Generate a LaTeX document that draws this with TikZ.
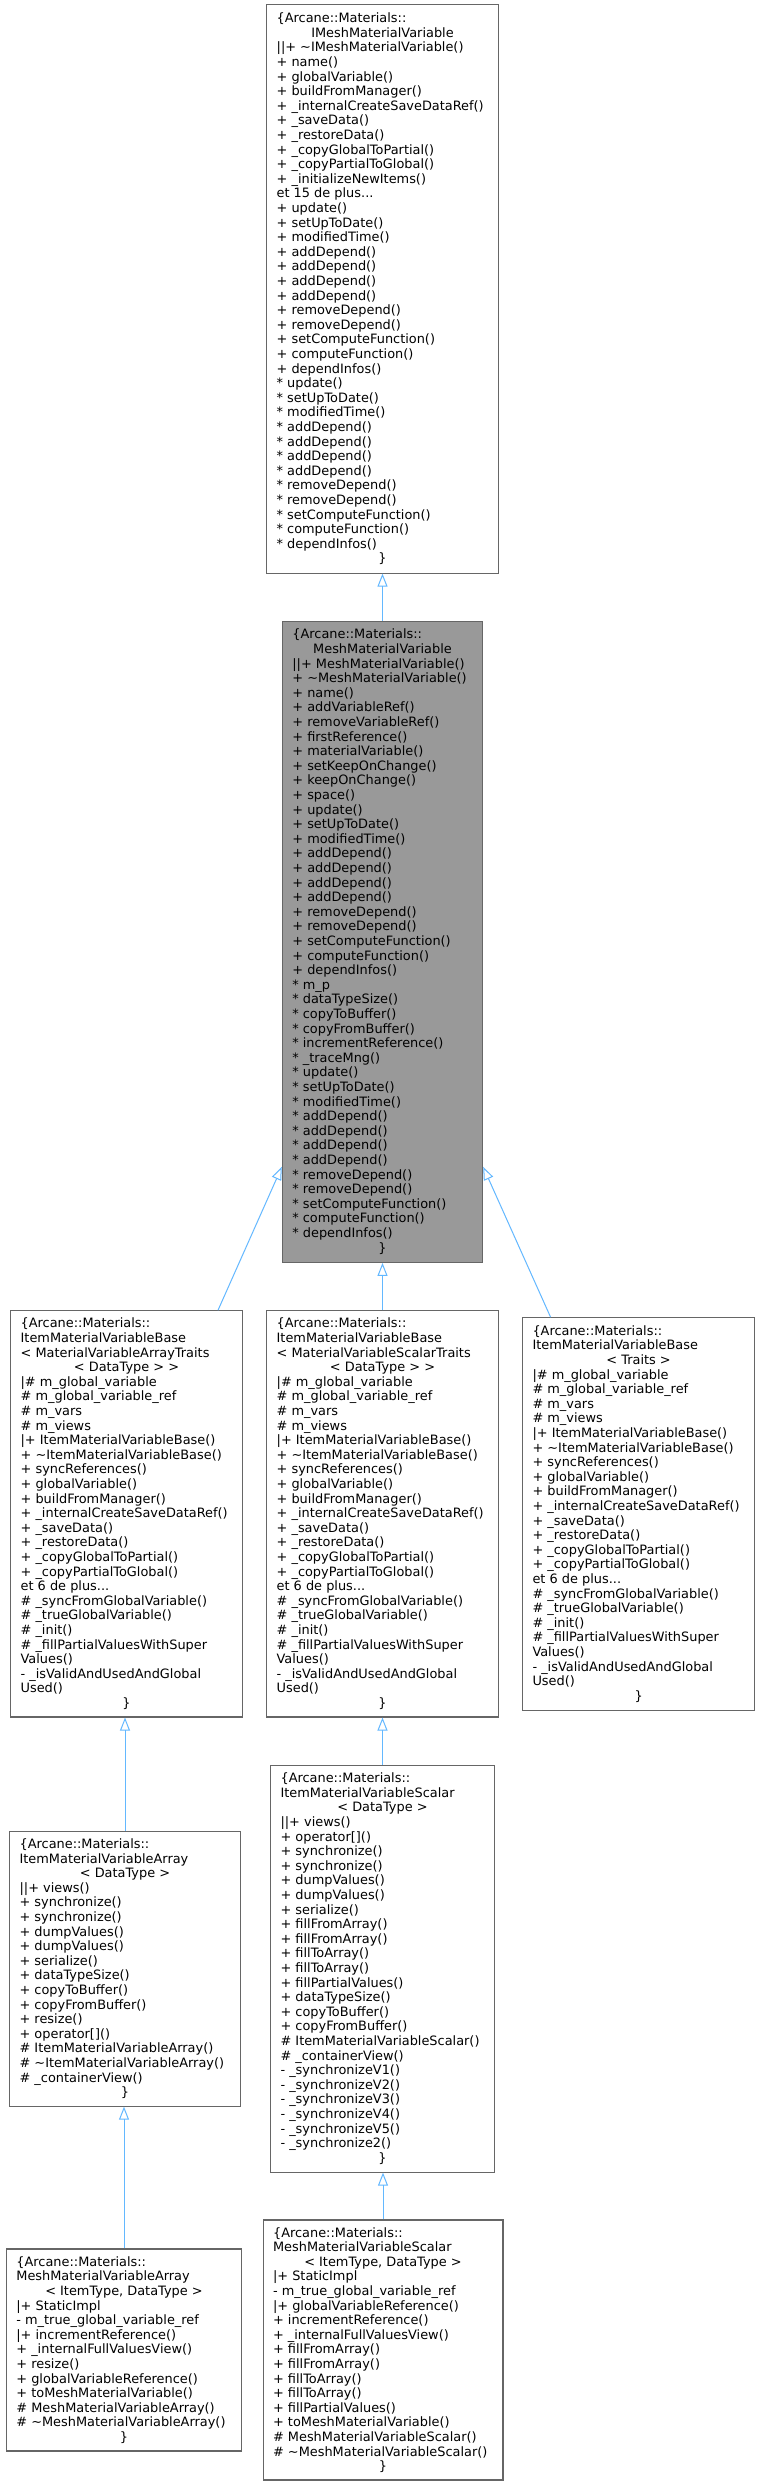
\documentclass[tikz,border=0pt]{standalone}
\usepackage{fontspec}
\setmainfont{DejaVu Sans}
\usepackage{xcolor}
\usetikzlibrary{arrows.meta}

\definecolor{edgeblue}{HTML}{63B8FF}
\definecolor{boxgray}{HTML}{666666}
\definecolor{mainfill}{HTML}{999999}

\newlength{\clsw}
\newcommand{\ctrline}[1]{\makebox[\clsw]{#1}}

\tikzset{
    classbox/.style={draw=boxgray, line width=1.1pt, fill=white, align=left, inner sep=0pt,
        font=\fontsize{12.9}{14.6}\selectfont, minimum width=#1,
        execute at begin node={\global\clsw=\dimexpr#1-20pt\relax}},
    inheritarrow/.style={draw=edgeblue, line width=1pt, -{Triangle[open,length=13pt,width=10pt]}}
}

\begin{document}
\begin{tikzpicture}[x=1pt,y=-1pt]
    \fill[white] (0,0) rectangle (760,2485);

    % Interface
    \node[classbox=231.7pt, minimum height=568.3pt] (imeshvar) at (382.5,288.9) {
        \{Arcane::Materials::\\
        \ctrline{IMeshMaterialVariable}\\
        ||+ \textasciitilde IMeshMaterialVariable()\\
        + name()\\
        + globalVariable()\\
        + buildFromManager()\\
        + \_internalCreateSaveDataRef()\\
        + \_saveData()\\
        + \_restoreData()\\
        + \_copyGlobalToPartial()\\
        + \_copyPartialToGlobal()\\
        + \_initializeNewItems()\\
        et 15 de plus...\\
        + update()\\
        + setUpToDate()\\
        + modifiedTime()\\
        + addDepend()\\
        + addDepend()\\
        + addDepend()\\
        + addDepend()\\
        + removeDepend()\\
        + removeDepend()\\
        + setComputeFunction()\\
        + computeFunction()\\
        + dependInfos()\\
        {*} update()\\
        {*} setUpToDate()\\
        {*} modifiedTime()\\
        {*} addDepend()\\
        {*} addDepend()\\
        {*} addDepend()\\
        {*} addDepend()\\
        {*} removeDepend()\\
        {*} removeDepend()\\
        {*} setComputeFunction()\\
        {*} computeFunction()\\
        {*} dependInfos()\\
        \ctrline{\}}
    };

    % Highlighted class
    \node[classbox=200.3pt, fill=mainfill, minimum height=641.3pt] (meshvar) at (382.5,941.7) {
        \{Arcane::Materials::\\
        \ctrline{MeshMaterialVariable}\\
        ||+ MeshMaterialVariable()\\
        + \textasciitilde MeshMaterialVariable()\\
        + name()\\
        + addVariableRef()\\
        + removeVariableRef()\\
        + firstReference()\\
        + materialVariable()\\
        + setKeepOnChange()\\
        + keepOnChange()\\
        + space()\\
        + update()\\
        + setUpToDate()\\
        + modifiedTime()\\
        + addDepend()\\
        + addDepend()\\
        + addDepend()\\
        + addDepend()\\
        + removeDepend()\\
        + removeDepend()\\
        + setComputeFunction()\\
        + computeFunction()\\
        + dependInfos()\\
        {*} m\_p\\
        {*} dataTypeSize()\\
        {*} copyToBuffer()\\
        {*} copyFromBuffer()\\
        {*} incrementReference()\\
        {*} \_traceMng()\\
        {*} update()\\
        {*} setUpToDate()\\
        {*} modifiedTime()\\
        {*} addDepend()\\
        {*} addDepend()\\
        {*} addDepend()\\
        {*} addDepend()\\
        {*} removeDepend()\\
        {*} removeDepend()\\
        {*} setComputeFunction()\\
        {*} computeFunction()\\
        {*} dependInfos()\\
        \ctrline{\}}
    };

    % Base classes
    \node[classbox=231.7pt, minimum height=406.2pt] (arraybase) at (126.5,1513.9) {
        \{Arcane::Materials::\\
        ItemMaterialVariableBase\\
        < MaterialVariableArrayTraits\\
        \ctrline{< DataType > >}\\
        |\# m\_global\_variable\\
        \# m\_global\_variable\_ref\\
        \# m\_vars\\
        \# m\_views\\
        |+ ItemMaterialVariableBase()\\
        + \textasciitilde ItemMaterialVariableBase()\\
        + syncReferences()\\
        + globalVariable()\\
        + buildFromManager()\\
        + \_internalCreateSaveDataRef()\\
        + \_saveData()\\
        + \_restoreData()\\
        + \_copyGlobalToPartial()\\
        + \_copyPartialToGlobal()\\
        et 6 de plus...\\
        \# \_syncFromGlobalVariable()\\
        \# \_trueGlobalVariable()\\
        \# \_init()\\
        \# \_fillPartialValuesWithSuper\\
        Values()\\
        - \_isValidAndUsedAndGlobal\\
        Used()\\
        \ctrline{\}}
    };
    \node[classbox=231.7pt, minimum height=406.2pt] (scalarbase) at (382.5,1513.9) {
        \{Arcane::Materials::\\
        ItemMaterialVariableBase\\
        < MaterialVariableScalarTraits\\
        \ctrline{< DataType > >}\\
        |\# m\_global\_variable\\
        \# m\_global\_variable\_ref\\
        \# m\_vars\\
        \# m\_views\\
        |+ ItemMaterialVariableBase()\\
        + \textasciitilde ItemMaterialVariableBase()\\
        + syncReferences()\\
        + globalVariable()\\
        + buildFromManager()\\
        + \_internalCreateSaveDataRef()\\
        + \_saveData()\\
        + \_restoreData()\\
        + \_copyGlobalToPartial()\\
        + \_copyPartialToGlobal()\\
        et 6 de plus...\\
        \# \_syncFromGlobalVariable()\\
        \# \_trueGlobalVariable()\\
        \# \_init()\\
        \# \_fillPartialValuesWithSuper\\
        Values()\\
        - \_isValidAndUsedAndGlobal\\
        Used()\\
        \ctrline{\}}
    };
    \node[classbox=232.2pt, minimum height=392.3pt] (traitsbase) at (638.6,1513.9) {
        \{Arcane::Materials::\\
        ItemMaterialVariableBase\\
        \ctrline{< Traits >}\\
        |\# m\_global\_variable\\
        \# m\_global\_variable\_ref\\
        \# m\_vars\\
        \# m\_views\\
        |+ ItemMaterialVariableBase()\\
        + \textasciitilde ItemMaterialVariableBase()\\
        + syncReferences()\\
        + globalVariable()\\
        + buildFromManager()\\
        + \_internalCreateSaveDataRef()\\
        + \_saveData()\\
        + \_restoreData()\\
        + \_copyGlobalToPartial()\\
        + \_copyPartialToGlobal()\\
        et 6 de plus...\\
        \# \_syncFromGlobalVariable()\\
        \# \_trueGlobalVariable()\\
        \# \_init()\\
        \# \_fillPartialValuesWithSuper\\
        Values()\\
        - \_isValidAndUsedAndGlobal\\
        Used()\\
        \ctrline{\}}
    };

    % Item variables
    \node[classbox=230.8pt, minimum height=274.7pt] (itemarray) at (125,1968.7) {
        \{Arcane::Materials::\\
        ItemMaterialVariableArray\\
        \ctrline{< DataType >}\\
        ||+ views()\\
        + synchronize()\\
        + synchronize()\\
        + dumpValues()\\
        + dumpValues()\\
        + serialize()\\
        + dataTypeSize()\\
        + copyToBuffer()\\
        + copyFromBuffer()\\
        + resize()\\
        + operator[]()\\
        \# ItemMaterialVariableArray()\\
        \# \textasciitilde ItemMaterialVariableArray()\\
        \# \_containerView()\\
        \ctrline{\}}
    };
    \node[classbox=223.9pt, minimum height=406.7pt] (itemscalar) at (382.5,1968.7) {
        \{Arcane::Materials::\\
        ItemMaterialVariableScalar\\
        \ctrline{< DataType >}\\
        ||+ views()\\
        + operator[]()\\
        + synchronize()\\
        + synchronize()\\
        + dumpValues()\\
        + dumpValues()\\
        + serialize()\\
        + fillFromArray()\\
        + fillFromArray()\\
        + fillToArray()\\
        + fillToArray()\\
        + fillPartialValues()\\
        + dataTypeSize()\\
        + copyToBuffer()\\
        + copyFromBuffer()\\
        \# ItemMaterialVariableScalar()\\
        \# \_containerView()\\
        - \_synchronizeV1()\\
        - \_synchronizeV2()\\
        - \_synchronizeV3()\\
        - \_synchronizeV4()\\
        - \_synchronizeV5()\\
        - \_synchronize2()\\
        \ctrline{\}}
    };

    % Mesh variables
    \node[classbox=235.2pt, minimum height=202pt] (mesharray) at (124,2350) {
        \{Arcane::Materials::\\
        MeshMaterialVariableArray\\
        \ctrline{< ItemType, DataType >}\\
        |+ StaticImpl\\
        - m\_true\_global\_variable\_ref\\
        |+ incrementReference()\\
        + \_internalFullValuesView()\\
        + resize()\\
        + globalVariableReference()\\
        + toMeshMaterialVariable()\\
        \# MeshMaterialVariableArray()\\
        \# \textasciitilde MeshMaterialVariableArray()\\
        \ctrline{\}}
    };
    \node[classbox=239.9pt, minimum height=260pt] (meshscalar) at (383,2350) {
        \{Arcane::Materials::\\
        MeshMaterialVariableScalar\\
        \ctrline{< ItemType, DataType >}\\
        |+ StaticImpl\\
        - m\_true\_global\_variable\_ref\\
        |+ globalVariableReference()\\
        + incrementReference()\\
        + \_internalFullValuesView()\\
        + fillFromArray()\\
        + fillFromArray()\\
        + fillToArray()\\
        + fillToArray()\\
        + fillPartialValues()\\
        + toMeshMaterialVariable()\\
        \# MeshMaterialVariableScalar()\\
        \# \textasciitilde MeshMaterialVariableScalar()\\
        \ctrline{\}}
    };

    % Inheritance
    \draw[inheritarrow] (meshvar.north) -- (meshvar.north |- imeshvar.south);
    \draw[inheritarrow] ([xshift=91.5pt]arraybase.north) -- ([yshift=96pt]meshvar.south west);
    \draw[inheritarrow] (scalarbase.north) -- (scalarbase.north |- meshvar.south);
    \draw[inheritarrow] ([xshift=-88pt]traitsbase.north) -- ([yshift=96pt]meshvar.south east);
    \draw[inheritarrow] (itemarray.north) -- (itemarray.north |- arraybase.south);
    \draw[inheritarrow] (itemscalar.north) -- (itemscalar.north |- scalarbase.south);
    \draw[inheritarrow] (mesharray.north) -- (mesharray.north |- itemarray.south);
    \draw[inheritarrow] (meshscalar.north) -- (meshscalar.north |- itemscalar.south);
\end{tikzpicture}
\end{document}
